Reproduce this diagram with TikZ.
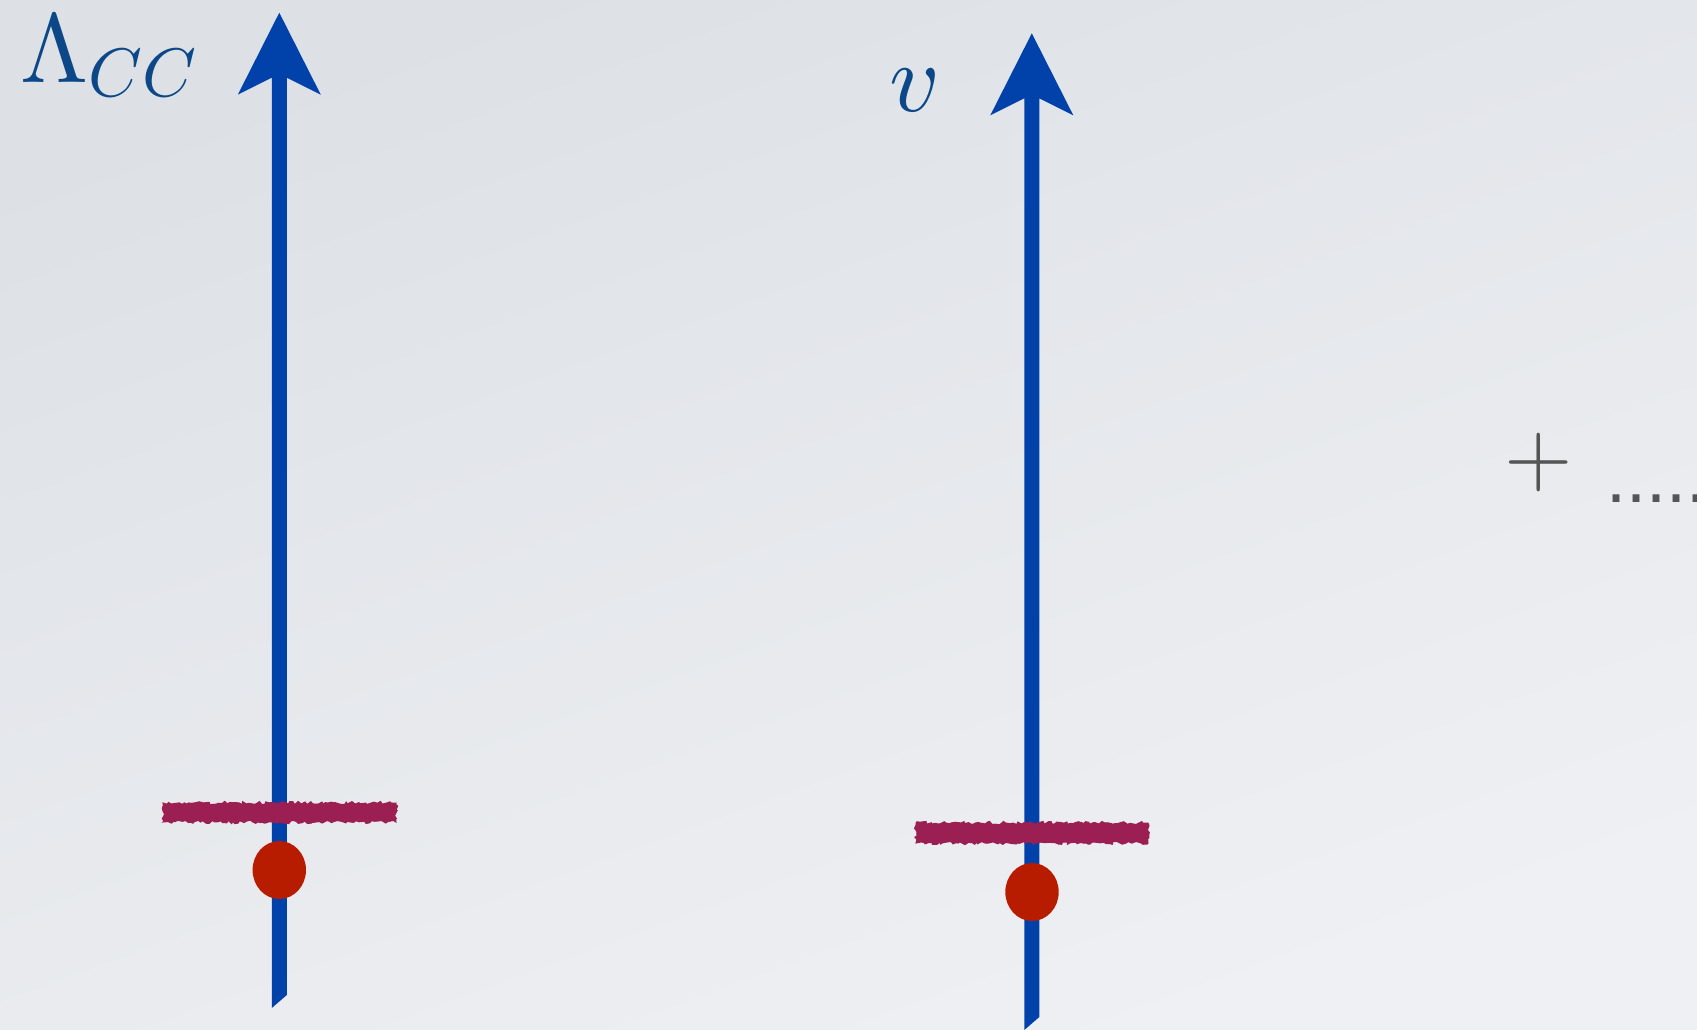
\documentclass[tikz,border=0pt]{standalone}
\usepackage{fontspec}
\newfontfamily\arialfont{Liberation Sans}
\DeclareFontShape{OML}{cmm}{m}{it}{<->cmmi10}{}
\DeclareFontShape{OT1}{cmr}{m}{n}{<->cmr10}{}
\DeclareFontShape{OMS}{cmsy}{m}{n}{<->cmsy10}{}
\DeclareFontShape{OMX}{cmex}{m}{n}{<->cmex10}{}
\usetikzlibrary{decorations.pathmorphing,shapes.geometric}
\definecolor{bgtop}{RGB}{221,225,230}
\definecolor{bgbot}{RGB}{239,240,243}
\definecolor{axisblue}{RGB}{0,66,170}
\definecolor{labelblue}{RGB}{12,72,135}
\definecolor{barred}{RGB}{155,31,82}
\definecolor{dotred}{RGB}{184,28,0}
\definecolor{plusgray}{RGB}{85,85,85}
\tikzset{
  axisfill/.style={fill=axisblue},
  roughbar/.style={fill=barred, draw=barred, line width=1pt, decorate,
    decoration={random steps, segment length=2.5pt, amplitude=1.6pt}},
  marker/.style={ellipse, fill=dotred, inner sep=0pt, minimum width=53.4pt, minimum height=58pt},
  axislabel/.style={text=labelblue, inner sep=0pt, font=\fontsize{98}{100}\selectfont},
}
\newcommand{\upaxis}[3]{% centre x, tip y, lower end y (right edge)
  \fill[axisfill] (#1-7.5,#3+13) -- (#1+7.5,#3) -- (#1+7.5,#2+65) -- (#1+41.5,#2+82)
    -- (#1,#2) -- (#1-41.5,#2+82) -- (#1-7.5,#2+65) -- cycle;}
\begin{document}
\begin{tikzpicture}[x=1pt,y=-1pt]
\pgfmathsetseed{7}
\shade[shading=axis, top color=bgtop, bottom color=bgbot, shading angle=20]
  (0,0) rectangle (1697,1029);
\useasboundingbox (0,0) rectangle (1697,1029);
% first axis
\coordinate (a1tip) at (279.3,12.7);
\upaxis{279.3}{12.7}{995}
\fill[roughbar] (163,803) rectangle (396,822);
\node[marker] (dot1) at (279.3,870) {};
\node[axislabel, anchor=base west] (lab1) at (20,82) {$\Lambda_{CC}$};
% second axis
\coordinate (a2tip) at (1031.8,33.3);
\upaxis{1031.8}{33.3}{1017}
\fill[roughbar] (916,823) rectangle (1148,843);
\node[marker] (dot2) at (1032,892) {};
\node[axislabel, anchor=base west] (lab2) at (889,111) {$v$};
% plus and dots
\node[text=plusgray, inner sep=0pt, font=\fontsize{88}{90}\selectfont] (plus) at (1538.3,462.7) {$+$};
\node[text=plusgray, inner sep=0pt, anchor=base west, font=\arialfont\fontsize{72}{74}\selectfont] (dots) at (1606,502) {.....};
\end{tikzpicture}
\end{document}
